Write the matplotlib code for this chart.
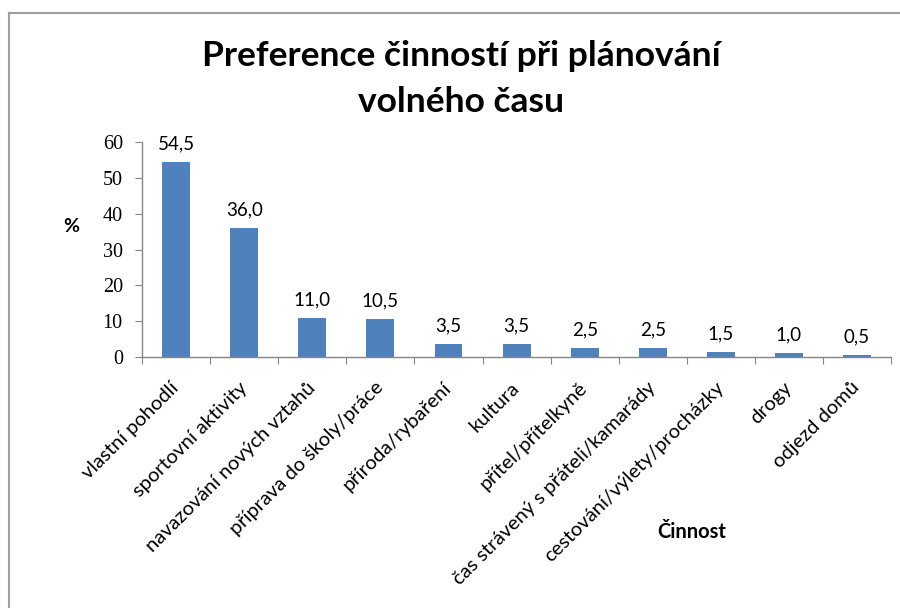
import matplotlib
matplotlib.use("Agg")
import matplotlib.pyplot as plt
from matplotlib.lines import Line2D

categories = ["vlastní pohodlí", "sportovní aktivity", "navazování nových vztahů",
              "příprava do školy/práce", "příroda/rybaření", "kultura",
              "přítel/přítelkyně", "čas strávený s přáteli/kamarády",
              "cestování/výlety/procházky", "drogy", "odjezd domů"]
values = [54.5, 36.0, 11.0, 10.5, 3.5, 3.5, 2.5, 2.5, 1.5, 1.0, 0.5]
yticks = [0, 10, 20, 30, 40, 50, 60]

sans = ["Lato", "DejaVu Sans"]
axis_grey = "#868686"

fig = plt.figure(figsize=(9, 6.08), dpi=100)
ax = fig.add_axes([0.158, 0.4128, 0.832, 0.3536])

x = list(range(len(categories)))
ax.bar(x, values, width=0.41, color="#4F81BD", zorder=2)
ax.set_xlim(-0.5, len(categories) - 0.5)
ax.set_ylim(0, 60)

# value labels, Czech decimal comma
for xi, v in zip(x, values):
    ax.annotate(f"{v:.1f}".replace(".", ","), xy=(xi, v), xytext=(0, 7),
                textcoords="offset points", ha="center", va="bottom",
                fontsize=13.5, family=sans)

# spines
for side in ["top", "right"]:
    ax.spines[side].set_visible(False)
for side in ["left", "bottom"]:
    ax.spines[side].set_color(axis_grey)
    ax.spines[side].set_linewidth(1.0)

ax.set_yticks(yticks)
ax.set_yticklabels([str(t) for t in yticks], family="Liberation Serif", fontsize=14.5)
ax.tick_params(axis="y", direction="out", length=5, color=axis_grey, pad=9)

# category boundary ticks on x axis, labels at the centres
ax.set_xticks([i - 0.5 for i in range(len(categories) + 1)])
ax.set_xticklabels([])
ax.tick_params(axis="x", direction="out", length=5, color=axis_grey)
ax.set_xticks(x, minor=True)
ax.set_xticklabels(categories, minor=True, rotation=45, ha="right", va="center",
                   rotation_mode="anchor", fontsize=14.5, family=sans)
ax.tick_params(axis="x", which="minor", length=0, pad=20)

ax.text(-0.095, 0.605, "%", transform=ax.transAxes, fontsize=14, fontweight="bold",
        family=sans, ha="center", va="center")
fig.text(692 / 900, 1 - 532 / 608, "Činnost", fontsize=14.5, fontweight="bold",
         family=sans, ha="center", va="center")

fig.text(461 / 900, 1 - 79 / 608, "Preference činností při plánování\nvolného času",
         ha="center", va="center", fontsize=25.5, fontweight="bold", family=sans,
         linespacing=1.5)

# chart area frame (top and left edges visible in the crop)
fig.add_artist(Line2D([8.5 / 900, 8.5 / 900], [0, 1 - 13 / 608], transform=fig.transFigure,
                      color="#A0A0A0", linewidth=1.5))
fig.add_artist(Line2D([8.5 / 900, 1], [1 - 13 / 608, 1 - 13 / 608], transform=fig.transFigure,
                      color="#A0A0A0", linewidth=1.5))

fig.savefig("out.png", dpi=100, facecolor="white")
